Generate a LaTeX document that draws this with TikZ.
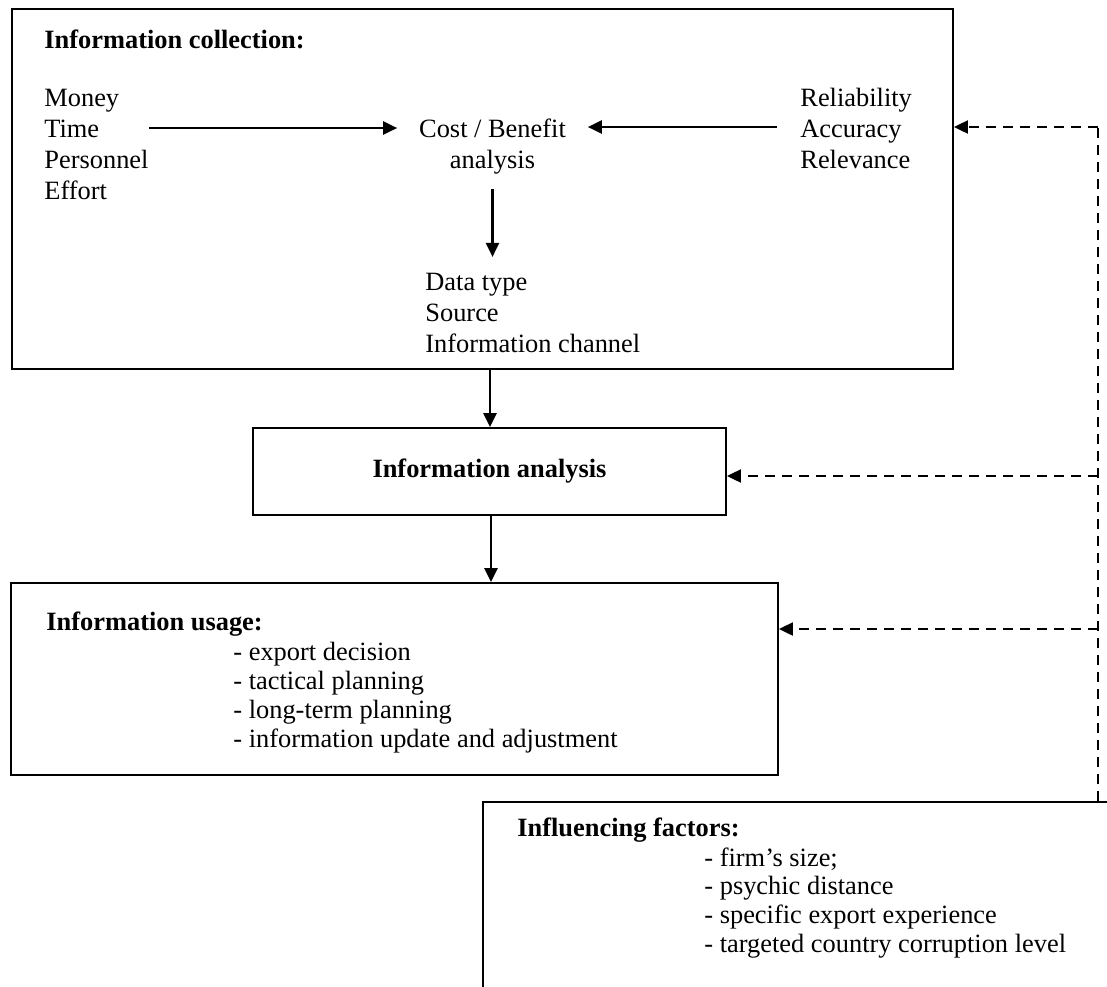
\documentclass[tikz,border=0pt]{standalone}
\usepackage{fontspec}
\setmainfont{Liberation Serif}
\usetikzlibrary{positioning,arrows.meta}

\begin{document}
\begin{tikzpicture}[
				x=0.5pt, y=-0.5pt,
				font=\fontsize{13.2}{15.35}\selectfont,
				frame/.style={rectangle, draw, line width=0.9pt, inner sep=0pt},
				txt/.style={anchor=base west, inner sep=0pt, align=left},
				flow/.style={-{Triangle[length=7pt,width=6.5pt]}, line width=1.2pt},
				dashline/.style={line width=1pt, dash pattern=on 5pt off 3.5pt},
				feedback/.style={dashline, -{Triangle[length=7pt,width=6.5pt]}}
				]
				\clip (0,0) rectangle (1107,986);
				
				% boxes
				\node[frame, minimum width=470.5pt, minimum height=180pt] (collect) at (482.5,189) {};
				\node[frame, minimum width=236.5pt, minimum height=43.5pt] (analysis) at (489.5,471.5) {\textbf{Information analysis}};
				\node[frame, minimum width=383.5pt, minimum height=96pt] (usage) at (394.5,679) {};
				\node[frame, minimum width=329pt, minimum height=109pt] (factors) at (812,911) {};
				
				% information collection (base = last line)
				\node[txt] (collecthead) at (44,48) {\textbf{Information collection:}};
				\node[txt] (resources) at (44,199) {Money\\Time\\Personnel\\Effort};
				\node[txt] (criteria) at (800,168) {Reliability\\Accuracy\\Relevance};
				\node[anchor=base, inner xsep=10.8pt, inner ysep=0pt, align=center] (costbenefit) at (492.5,168) {Cost / Benefit\\analysis};
				\node[txt] (datatype) at (425,352) {Data type\\Source\\Information channel};
				
				% usage and factors
				\node[txt] (usagehead) at (46,630) {\textbf{Information usage:}};
				\node[txt, font=\fontsize{13.2}{14.4}\selectfont] (usagelist) at (233,747) {- export decision\\- tactical planning\\- long-term planning\\- information update and adjustment};
				\node[txt] (factorshead) at (517,836) {\textbf{Influencing factors:}};
				\node[txt, font=\fontsize{13.2}{14.3}\selectfont] (factorslist) at (704,952) {- firm’s size;\\- psychic distance\\- specific export experience\\- targeted country corruption level};
				
				\coordinate (flowline) at (0,128);
				\coordinate (feedtop) at (1098,127);
				\coordinate (feedmid) at (1098,476);
				\coordinate (feedlow) at (1098,629);
				
				\draw[flow] (resources.east |- flowline) -- (costbenefit.west |- flowline);
				\draw[flow, shorten <=11.5pt] (criteria.west |- feedtop) -- (costbenefit.east |- feedtop);
				\draw[flow, shorten <=7.5pt, shorten >=8pt] (costbenefit.south) -- (costbenefit.south |- datatype.north);
				\draw[flow] (collect.south -| 490,0) -- (analysis.north -| 490,0);
				\draw[flow] (analysis.south -| 491,0) -- (usage.north -| 491,0);
				
				% feedback from influencing factors
				\draw[dashline] (factors.north -| feedtop) -- (feedtop);
				\draw[feedback] (feedtop) -- (collect.east |- feedtop);
				\draw[feedback] (feedmid) -- (analysis.east |- feedmid);
				\draw[feedback] (feedlow) -- (usage.east |- feedlow);
			\end{tikzpicture}
\end{document}
